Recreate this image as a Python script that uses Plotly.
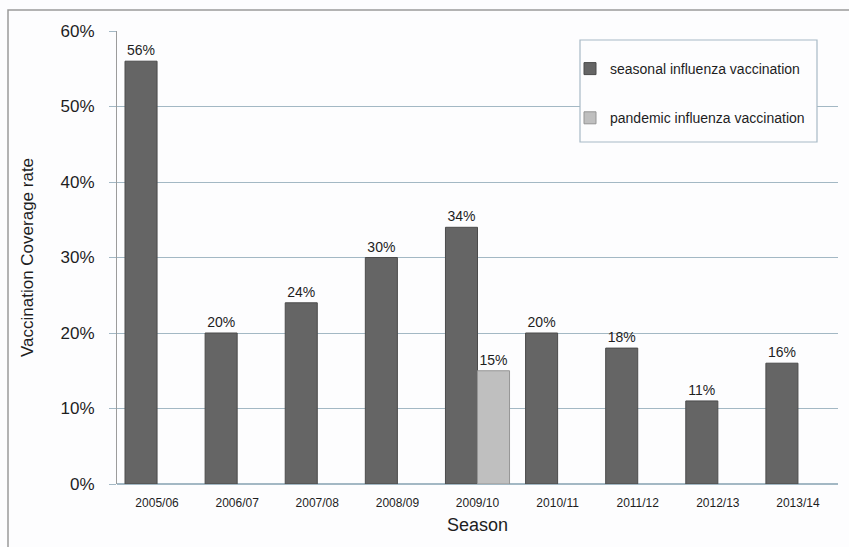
import plotly.graph_objects as go

# Vaccination coverage by influenza season
seasons = ["2005/06", "2006/07", "2007/08", "2008/09", "2009/10",
           "2010/11", "2011/12", "2012/13", "2013/14"]
seasonal_rate = [56, 20, 24, 30, 34, 20, 18, 11, 16]
pandemic_rate = [None, None, None, None, 15, None, None, None, None]

y_ticks = [0, 10, 20, 30, 40, 50, 60]
y_tick_labels = [f"{v}%" for v in y_ticks]

W, H = 849, 547
L, R, T, B = 117, 11, 31, 63
PW, PH = W - L - R, H - T - B


def px_x(p):
    return (p - L) / PW


def px_y(p):
    return (H - B - p) / PH


fig = go.Figure()

fig.add_trace(go.Bar(
    x=seasons, y=seasonal_rate,
    name="seasonal influenza vaccination",
    legendgroup="a",
    marker=dict(color="#656565", line=dict(color="#4b4b4b", width=1)),
    text=[f"{v}%" for v in seasonal_rate],
    textposition="outside",
    textfont=dict(family="Arial, Liberation Sans", size=14, color="#1e1e1e"),
    cliponaxis=False,
))
fig.add_trace(go.Bar(
    x=seasons, y=pandemic_rate,
    name="pandemic influenza vaccination",
    legendgroup="b",
    marker=dict(color="#bfbfbf", line=dict(color="#959595", width=1)),
    text=[f"{v}%" if v is not None else "" for v in pandemic_rate],
    textposition="outside",
    textfont=dict(family="Arial, Liberation Sans", size=14, color="#1e1e1e"),
    cliponaxis=False,
))

grid_col = "#a3b8c4"

fig.update_layout(
    width=W, height=H,
    margin=dict(l=L, r=R, t=T, b=B),
    paper_bgcolor="#fdfdfe",
    plot_bgcolor="#fdfdfe",
    barmode="group",
    bargap=0.2,
    bargroupgap=0.0,
    font=dict(family="Arial, Liberation Sans", color="#1e1e1e"),
    legend=dict(
        x=px_x(570), y=px_y(53), xanchor="left", yanchor="top",
        bgcolor="rgba(0,0,0,0)", borderwidth=0,
        font=dict(size=14, color="#1e1e1e"),
        tracegroupgap=28,
        itemwidth=30,
    ),
    xaxis=dict(
        type="category",
        tickfont=dict(size=12, color="#1e1e1e"),
        ticks="outside", ticklen=8, tickcolor="rgba(0,0,0,0)",
        showgrid=False, showline=False, zeroline=False,
        title=dict(text="Season", font=dict(size=18, color="#1e1e1e"), standoff=8),
    ),
    yaxis=dict(
        range=[0, 60],
        tickvals=y_ticks, ticktext=y_tick_labels,
        tickfont=dict(size=17, color="#1e1e1e"),
        ticks="outside", ticklen=7, tickcolor=grid_col,
        ticklabelstandoff=11,
        showgrid=True, gridcolor=grid_col, gridwidth=1,
        showline=True, linecolor="#9c9c9c", linewidth=1,
        zeroline=True, zerolinecolor=grid_col,
        title=dict(text="Vaccination Coverage rate",
                   font=dict(size=17, color="#1e1e1e"), standoff=22),
    ),
    shapes=[
        # outer frame of the figure
        dict(type="rect", xref="paper", yref="paper",
             x0=px_x(8), x1=px_x(870), y0=px_y(560), y1=px_y(10),
             line=dict(color="#9a9a9a", width=1.5), layer="below"),
        # legend box
        dict(type="rect", xref="paper", yref="paper",
             x0=px_x(580), x1=px_x(817), y0=px_y(142), y1=px_y(40),
             line=dict(color="#a8bac5", width=1.2),
             fillcolor="#fdfdfe", layer="above"),
    ],
)

fig.write_html("out.html")
